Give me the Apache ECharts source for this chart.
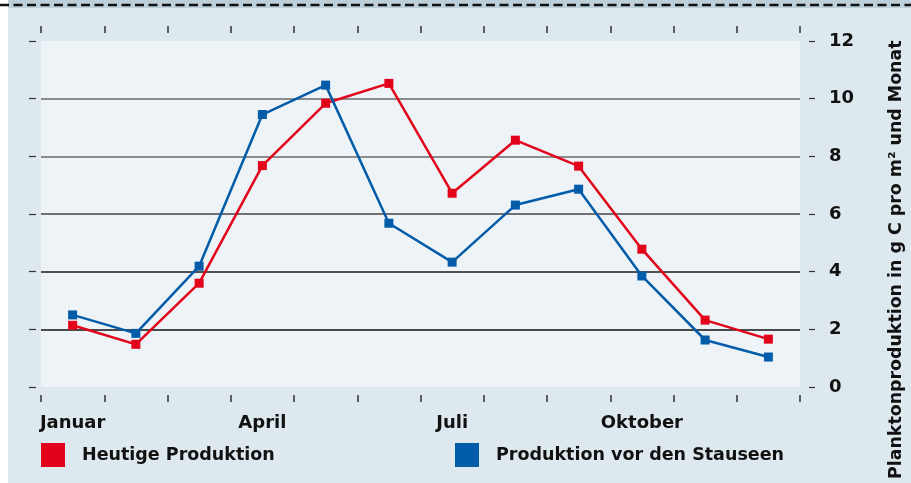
<!DOCTYPE html>
<html>
<head>
<meta charset="utf-8">
<script src="https://cdn.jsdelivr.net/npm/echarts@6/dist/echarts.min.js"></script>
<style>
  html, body { margin: 0; padding: 0; background: #ffffff; }
  #chart { width: 911px; height: 483px; }
</style>
</head>
<body>
<div id="chart"></div>
<script>
// Monthly plankton production (g C per m2 and month)
const months = ['Januar', 'Februar', 'März', 'April', 'Mai', 'Juni',
                'Juli', 'August', 'September', 'Oktober', 'November', 'Dezember'];
const heutige = [2.14, 1.48, 3.6, 7.68, 9.84, 10.53, 6.72, 8.56, 7.66, 4.78, 2.32, 1.66];
const vorStauseen = [2.5, 1.86, 4.19, 9.45, 10.47, 5.68, 4.33, 6.31, 6.86, 3.85, 1.63, 1.04];
const yTicks = [0, 2, 4, 6, 8, 10, 12];

const RED = '#e2001a';
const BLUE = '#005ca9';
const FONT = 'DejaVu Sans';

const chart = echarts.init(document.getElementById('chart'), null, { renderer: 'canvas' });

// grid lines: lower ones black, upper ones grey (as in the print)
const gridColors = ['transparent', '#111111', '#1a1a1a', '#444444', '#6a6a6a', '#6a6a6a', 'transparent'];

const legendText = { fontFamily: FONT, fontWeight: 'bold', fontSize: 17.5, color: '#111', padding: [0, 0, 0, 12] };

const option = {
    backgroundColor: '#ffffff',
    animation: false,
    graphic: [
        { type: 'rect', shape: { x: 8, y: 0, width: 903, height: 8 }, style: { fill: '#bccfdb' }, silent: true, z: -10 },
        { type: 'rect', shape: { x: 8, y: 8, width: 903, height: 475 }, style: { fill: '#dee8ef' }, silent: true, z: -10 },
        { type: 'line', shape: { x1: 0, y1: 5, x2: 911, y2: 5 },
          style: { stroke: '#111111', lineWidth: 2.5, lineDash: [9, 4.5] }, silent: true, z: -5 },
        { type: 'text', rotation: Math.PI / 2, x: 896, y: 479,
          style: { text: 'Planktonproduktion in g C pro m² und Monat', font: 'bold 17.4px "DejaVu Sans"',
                   fill: '#111111', textAlign: 'left', textVerticalAlign: 'middle' } }
    ],
    grid: {
        left: 41, right: 111, top: 41, bottom: 96,
        show: true, backgroundColor: '#eef3f7', borderWidth: 0
    },
    legend: [
        {
            data: ['Heutige Produktion'], left: 41, top: 443, icon: 'rect', padding: 0,
            itemWidth: 24, itemHeight: 24, textStyle: legendText
        },
        {
            data: ['Produktion vor den Stauseen'], left: 455, top: 443, icon: 'rect', padding: 0,
            itemWidth: 24, itemHeight: 24, textStyle: legendText
        }
    ],
    xAxis: [
        {
            type: 'category', data: months, position: 'bottom', offset: 8, boundaryGap: true,
            axisLine: { show: false, onZero: false },
            axisTick: { show: true, interval: 0, length: 7, lineStyle: { color: '#333', width: 1.5 } },
            axisLabel: {
                interval: 2, margin: 19, fontFamily: FONT, fontWeight: 'bold', fontSize: 18, color: '#111'
            },
            splitLine: { show: false }
        },
        {
            type: 'category', data: months, position: 'top', offset: 8, boundaryGap: true,
            axisLine: { show: false, onZero: false },
            axisTick: { show: true, interval: 0, length: 7, lineStyle: { color: '#333', width: 1.5 } },
            axisLabel: { show: false },
            splitLine: { show: false }
        }
    ],
    yAxis: [
        {
            type: 'value', position: 'right', min: yTicks[0], max: yTicks[yTicks.length - 1], interval: 2,
            offset: 9,
            axisLine: { show: false, onZero: false },
            axisTick: { show: true, length: 6, lineStyle: { color: '#333', width: 1.2 } },
            axisLabel: {
                margin: 20, fontFamily: FONT, fontWeight: 'bold', fontSize: 18, color: '#111', align: 'left'
            },
            splitLine: { show: true, lineStyle: { color: gridColors, width: 1.5 } }
        },
        {
            type: 'value', position: 'left', min: yTicks[0], max: yTicks[yTicks.length - 1], interval: 2,
            offset: 5,
            axisLine: { show: false, onZero: false },
            axisTick: { show: true, length: 7, lineStyle: { color: '#333', width: 1.2 } },
            axisLabel: { show: false },
            splitLine: { show: false }
        }
    ],
    series: [
        {
            name: 'Heutige Produktion', type: 'line', data: heutige,
            xAxisIndex: 0, yAxisIndex: 0,
            symbol: 'rect', symbolSize: 9, color: RED,
            lineStyle: { color: RED, width: 2.5 },
            itemStyle: { color: RED }, z: 3
        },
        {
            name: 'Produktion vor den Stauseen', type: 'line', data: vorStauseen,
            xAxisIndex: 0, yAxisIndex: 0,
            symbol: 'rect', symbolSize: 9, color: BLUE,
            lineStyle: { color: BLUE, width: 2.5 },
            itemStyle: { color: BLUE }, z: 4
        }
    ]
};

chart.setOption(option);
</script>
</body>
</html>
